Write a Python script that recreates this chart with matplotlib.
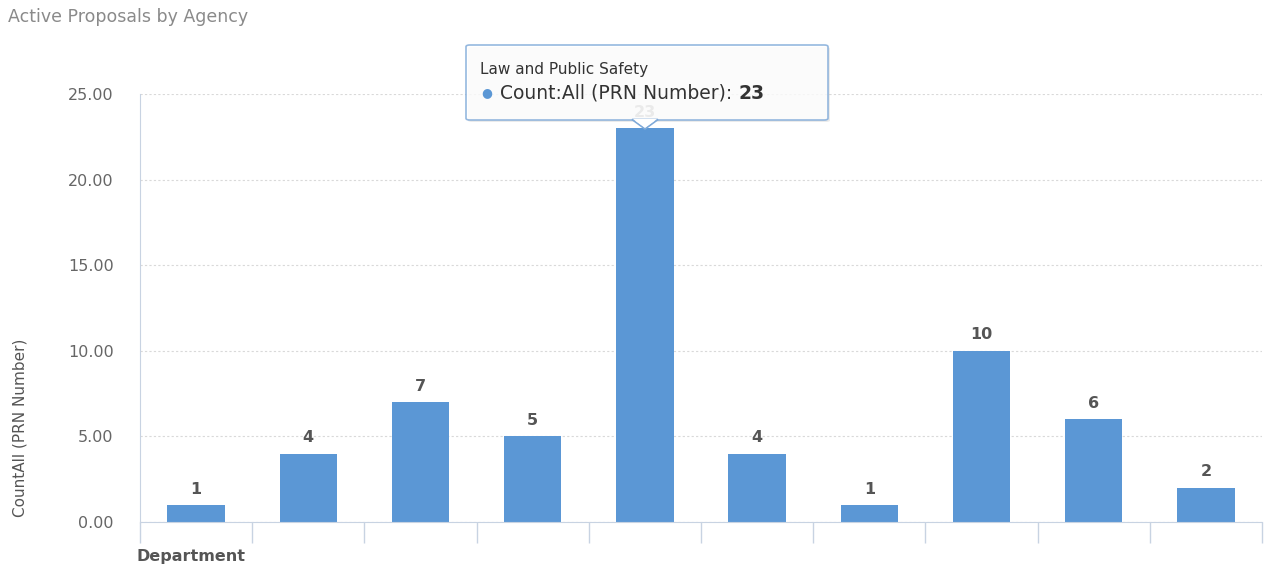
import matplotlib
matplotlib.use("Agg")
import matplotlib.pyplot as plt
from matplotlib.patches import FancyBboxPatch, Polygon

title = "Active Proposals by Agency"
y_label = "CountAll (PRN Number)"
x_label = "Department"
values = [1, 4, 7, 5, 23, 4, 1, 10, 6, 2]
y_ticks = [0, 5, 10, 15, 20, 25]
tooltip_category = "Law and Public Safety"
tooltip_series = "Count:All (PRN Number): "
tooltip_index = 4

bar_color = "#5b97d5"
grid_color = "#d9d9d9"
axis_color = "#c8d3e2"

fig = plt.figure(figsize=(12.72, 5.7), dpi=100)
ax = fig.add_axes([140/1272, 48/570, 1122/1272, 428/570])
n = len(values)
x = list(range(n))
ax.bar(x, values, width=0.51, color=bar_color, zorder=2)
ax.set_xlim(-0.5, n - 0.5)
ax.set_ylim(0, 25)
ax.set_yticks(y_ticks)
ax.set_yticklabels([f"{v:.2f}" for v in y_ticks], color="#666666", fontsize=11.5)
ax.tick_params(axis="y", length=0, pad=19)
ax.set_xticks([i - 0.5 for i in range(n + 1)])
ax.set_xticklabels([])
ax.tick_params(axis="x", length=15, color=axis_color, width=1)
for s in ["top", "right"]:
    ax.spines[s].set_visible(False)
ax.spines["left"].set_color(axis_color)
ax.spines["bottom"].set_color(axis_color)
ax.yaxis.grid(True, linestyle=(0, (2, 2)), color=grid_color, linewidth=0.8, zorder=0)
ax.set_axisbelow(True)

for i, v in enumerate(values):
    c = "#555555" if i != tooltip_index else "#999999"
    ax.annotate(str(v), (i, v), xytext=(0, 6), textcoords="offset points",
                ha="center", va="bottom", fontsize=11.5, fontweight="bold", color=c)

fig.text(8/1272, 1 - 17/570, title, fontsize=12.5, color="#8a8a8a", va="center", ha="left")
fig.text(20/1272, 1 - 428/570, y_label, rotation=90, fontsize=11, color="#555555",
         va="center", ha="center")
fig.text(137/1272, 1 - 557/570, x_label, fontsize=11.5, color="#555555",
         fontweight="bold", va="center", ha="left")

# tooltip
def px(xp, yp):
    return xp/1272, 1 - yp/570
bx0, by0 = px(466, 120)
bx1, by1 = px(828, 45)
shadow = FancyBboxPatch((bx0 + 2/1272, by0 - 2/570), bx1 - bx0, by1 - by0,
                        boxstyle="round,pad=0,rounding_size=0.003",
                        transform=fig.transFigure, facecolor="#000000", alpha=0.08,
                        edgecolor="none", zorder=9)
fig.patches.append(shadow)
box = FancyBboxPatch((bx0, by0), bx1 - bx0, by1 - by0,
                     boxstyle="round,pad=0,rounding_size=0.003",
                     transform=fig.transFigure, facecolor="white", alpha=0.82,
                     edgecolor="#7ea9d8", linewidth=1.2, zorder=10)
fig.patches.append(box)
arrow = Polygon([px(632, 119.5), px(658, 119.5), px(645, 129)], closed=True,
                transform=fig.transFigure, facecolor="white", edgecolor="#7ea9d8",
                linewidth=1.2, zorder=11)
fig.patches.append(arrow)
cover = Polygon([px(633, 119), px(657, 119), px(645, 127.5)], closed=True,
                transform=fig.transFigure, facecolor="white", edgecolor="none", zorder=12)
fig.patches.append(cover)
fig.text(*px(480, 70), tooltip_category, fontsize=11, color="#333333",
         va="center", ha="left", zorder=13)
fig.text(*px(481, 93), "\u25cf", fontsize=9, color=bar_color, va="center", ha="left", zorder=13)
t = fig.text(*px(500, 93), tooltip_series, fontsize=13.5, color="#333333",
             va="center", ha="left", zorder=13)
fig.canvas.draw()
bb = t.get_window_extent()
fig.text(bb.x1/1272, 1 - 93/570, str(values[tooltip_index]), fontsize=13.5, color="#333333",
         fontweight="bold", va="center", ha="left", zorder=13)

fig.savefig("out.png", dpi=100)
